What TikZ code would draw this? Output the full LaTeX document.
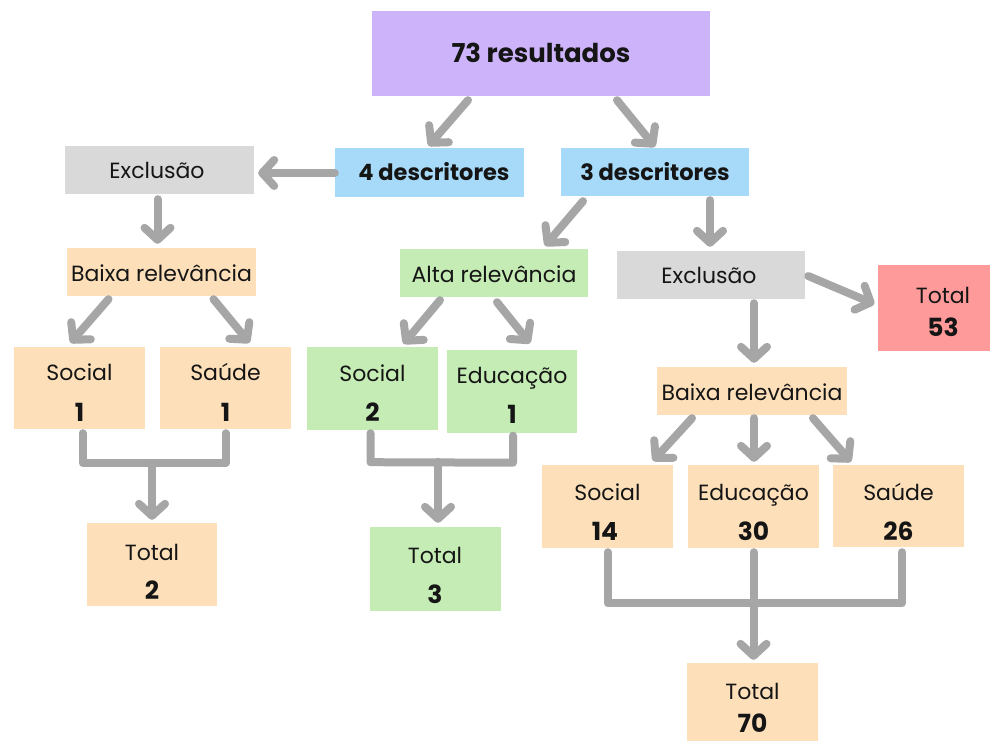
\documentclass[tikz,border=0pt]{standalone}
\usepackage{fontspec}
\setmainfont{Poppins}
\usetikzlibrary{arrows.meta,calc}
\definecolor{cpurple}{HTML}{CDB4FA}
\definecolor{cblue}{HTML}{A7D9F8}
\definecolor{cgray}{HTML}{D9D9D9}
\definecolor{corange}{HTML}{FDE0BA}
\definecolor{cgreen}{HTML}{C5ECB4}
\definecolor{cred}{HTML}{FF9A9A}
\definecolor{carrow}{HTML}{A6A6A6}
\definecolor{ctext}{HTML}{151515}
\tikzset{
  box/.style={rectangle, inner sep=0pt, draw=none},
  txt/.style={anchor=base, inner sep=0pt, text=ctext, font=\fontsize{22}{26}\selectfont},
  btxt/.style={anchor=base, inner sep=0pt, text=ctext, font=\fontsize{25}{28}\selectfont\bfseries},
  htxt/.style={anchor=base, inner sep=0pt, text=ctext, font=\fontsize{22.5}{26}\selectfont\bfseries},
  conn/.style={draw=carrow, line width=8pt, line cap=round, line join=round},
  arr/.style={conn, -{Straight Barb[length=12pt, width=26pt, round]}},
}
\begin{document}
\begin{tikzpicture}[x=1pt, y=-1pt]
\clip (0,0) rectangle (990,741);
\fill[white] (0,0) rectangle (990,741);
% single-line boxes
\node[box, fill=cpurple, minimum width=338, minimum height=85] (top) at (541,53.5) {};
\node[htxt, font=\fontsize{26}{30}\selectfont\bfseries] (topt) at (541,63) {73 resultados};
\node[box, fill=cblue, minimum width=189, minimum height=49] (d4) at (429.5,172.5) {};
\node[htxt] (d4t) at (434,180) {4 descritores};
\node[box, fill=cblue, minimum width=188, minimum height=48] (d3) at (655,172) {};
\node[htxt] (d3t) at (655,180) {3 descritores};
\node[box, fill=cgray, minimum width=189, minimum height=48] (exL) at (159.5,170) {};
\node[txt] (exLt) at (157,178) {Exclusão};
\node[box, fill=corange, minimum width=189, minimum height=48] (baixaL) at (161.5,272) {};
\node[txt] (baixaLt) at (161.5,281) {Baixa relevância};
\node[box, fill=cgreen, minimum width=188, minimum height=48] (alta) at (494,273) {};
\node[txt] (altat) at (494,282) {Alta relevância};
\node[box, fill=cgray, minimum width=188, minimum height=48] (exR) at (711,275) {};
\node[txt] (exRt) at (709,283) {Exclusão};
\node[box, fill=corange, minimum width=190, minimum height=48] (baixaR) at (752,391) {};
\node[txt] (baixaRt) at (752,400) {Baixa relevância};
% two-line boxes
\node[box, fill=cred, minimum width=131, minimum height=86] (t53) at (943,308) {};
\node[txt] (t53a) at (943,303) {Total};
\node[btxt] (t53b) at (943,336) {53};
\node[box, fill=corange, minimum width=131, minimum height=82] (s1) at (79.5,388) {};
\node[txt] (s1a) at (79.5,380) {Social};
\node[btxt] (s1b) at (79.5,421) {1};
\node[box, fill=corange, minimum width=131, minimum height=82] (sa1) at (225.5,388) {};
\node[txt] (sa1a) at (225.5,380) {Saúde};
\node[btxt] (sa1b) at (225.5,421) {1};
\node[box, fill=cgreen, minimum width=131, minimum height=83] (s2) at (372.5,388.5) {};
\node[txt] (s2a) at (372.5,381) {Social};
\node[btxt] (s2b) at (372.5,421) {2};
\node[box, fill=cgreen, minimum width=130, minimum height=83] (e1) at (512,391) {};
\node[txt] (e1a) at (512,383) {Educação};
\node[btxt] (e1b) at (512,423) {1};
\node[box, fill=corange, minimum width=130, minimum height=83] (t2) at (152,564.5) {};
\node[txt] (t2a) at (152,560) {Total};
\node[btxt] (t2b) at (152,599) {2};
\node[box, fill=cgreen, minimum width=131, minimum height=84] (t3) at (435,569) {};
\node[txt] (t3a) at (435,563) {Total};
\node[btxt] (t3b) at (435,603) {3};
\node[box, fill=corange, minimum width=131, minimum height=83] (s14) at (607.5,506.5) {};
\node[txt] (s14a) at (607.5,500) {Social};
\node[btxt] (s14b) at (605,540) {14};
\node[box, fill=corange, minimum width=131, minimum height=83] (e30) at (753.5,506.5) {};
\node[txt] (e30a) at (753.5,500) {Educação};
\node[btxt] (e30b) at (753.5,540) {30};
\node[box, fill=corange, minimum width=131, minimum height=82] (sa26) at (898.5,506) {};
\node[txt] (sa26a) at (898.5,500) {Saúde};
\node[btxt] (sa26b) at (898.5,540) {26};
\node[box, fill=corange, minimum width=131, minimum height=84] (t70) at (752.5,705) {};
\node[txt] (t70a) at (752.5,699) {Total};
\node[btxt] (t70b) at (752.5,732) {70};
% connectors
\draw[arr] ($(top.south)+(-73,4)$) -- ($(d4.north)+(-1,-2)$);
\draw[arr] ($(top.south)+(76,4)$) -- ($(d3.north)+(0,-1)$);
\draw[arr] ($(d4.west)+(0,0.5)$) -- ($(d4.west -| exL.east)+(4,0.5)$);
\draw[arr] ($(exL.south)+(-2,5)$) -- ($(baixaL.north)+(-4,-4)$);
\draw[arr] ($(baixaL.south)+(-53,3)$) -- ($(s1.north)+(-9,-4)$);
\draw[arr] ($(baixaL.south)+(52,3)$) -- ($(sa1.north)+(24,-4)$);
\draw[conn] ($(s1.south)+(3,4)$) -- ($(s1.south)+(3,34)$) -- ($(sa1.south)+(0,34)$) -- ($(sa1.south)+(0,4)$);
\coordinate (jL) at ($(t2.north)+(0,-60)$);
\draw[arr] (jL) -- ($(t2.north)+(0,-3)$);
\draw[arr] ($(d3.south)+(-72,5)$) -- ($(alta.north)+(51,-3)$);
\draw[arr] ($(d3.south)+(55,4)$) -- ($(exR.north)+(-1,-4)$);
\draw[arr] ($(alta.south)+(-54,3)$) -- ($(s2.north)+(31,-3)$);
\draw[arr] ($(alta.south)+(3,5)$) -- ($(e1.north)+(18,-6)$);
\draw[conn] ($(s2.south)+(-2,3)$) -- ($(s2.south)+(-2,32)$) -- ($(e1.south)+(1,30)$) -- ($(e1.south)+(1,3)$);
\coordinate (jM) at ($(t3.north)+(3,-65)$);
\draw[arr] (jM) -- ($(t3.north)+(3,-4)$);
\draw[arr] ($(exR.east)+(3,1)$) -- ($(t53.west)+(-3,-4)$);
\draw[arr] ($(exR.south)+(43,4)$) -- ($(baixaR.north)+(2,-4)$);
\draw[arr] ($(baixaR.south)+(-60,3)$) -- ($(s14.north)+(45.5,-4)$);
\draw[arr] ($(baixaR.south)+(2,3)$) -- ($(e30.north)+(0.5,-3)$);
\draw[arr] ($(baixaR.south)+(61,3)$) -- ($(sa26.north)+(-47.5,-3)$);
\draw[conn] ($(s14.south)+(0,4)$) -- ($(s14.south)+(0,55)$) -- ($(sa26.south)+(3.5,56)$) -- ($(sa26.south)+(3.5,5)$);
\draw[conn] ($(e30.south)+(0,4)$) -- ($(e30.south)+(0,55)$);
\coordinate (jR) at ($(t70.north)+(1,-60)$);
\draw[arr] (jR) -- ($(t70.north)+(1,-3)$);
\end{tikzpicture}
\end{document}
